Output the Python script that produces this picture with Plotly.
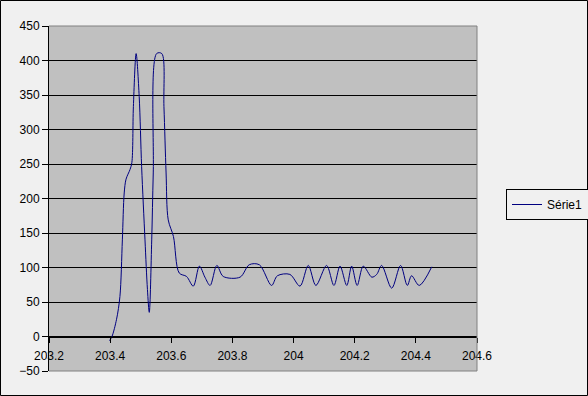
import plotly.graph_objects as go

# Data
x_vals = [203.398, 203.406, 203.421, 203.432, 203.440, 203.446, 203.452, 203.465, 203.471,
          203.476, 203.485, 203.495, 203.503, 203.514, 203.522, 203.528, 203.536, 203.541,
          203.552, 203.569, 203.576, 203.583, 203.590, 203.607, 203.626, 203.650, 203.672,
          203.692, 203.710, 203.727, 203.749, 203.770, 203.825, 203.855, 203.888, 203.928,
          203.947, 203.988, 204.021, 204.048, 204.073, 204.108, 204.132, 204.152, 204.174,
          204.190, 204.208, 204.228, 204.256, 204.272, 204.288, 204.321, 204.350, 204.372,
          204.386, 204.411, 204.452]
y_vals = [-6, 0, 25, 58, 140, 208, 228, 242, 252,
          333, 410, 348, 246, 140, 68, 35, 140, 237,
          410, 410, 333, 237, 169, 145, 92, 87, 73,
          102, 86, 74, 103, 87, 86, 104, 104, 74,
          88, 90, 73, 103, 74, 103, 74, 102, 74,
          102, 74, 102, 86, 90, 103, 70, 103, 74,
          88, 74, 101]
series_name = "Série1"
x_ticks = [203.2, 203.4, 203.6, 203.8, 204.0, 204.2, 204.4, 204.6]
x_tick_text = ["203.2", "203.4", "203.6", "203.8", "204", "204.2", "204.4", "204.6"]
y_ticks = [-50, 0, 50, 100, 150, 200, 250, 300, 350, 400, 450]

W, H = 588, 396
L, R, T, B = 49, 477, 26, 371
pw, ph = R - L, B - T

def px(xp):
    return (xp - L) / pw

def py(yp):
    return (B - yp) / ph

fig = go.Figure()
fig.add_trace(go.Scatter(
    x=x_vals, y=y_vals, mode="lines", name=series_name,
    line=dict(color="#000080", width=1, shape="spline", smoothing=0.9),
    showlegend=True,
))

font = dict(family="Arial, Liberation Sans, sans-serif", size=12, color="black")

fig.update_layout(
    width=W, height=H,
    margin=dict(l=L, r=W - R, t=T, b=H - B, pad=0, autoexpand=False),
    paper_bgcolor="#f0f0f0",
    plot_bgcolor="#c0c0c0",
    font=font,
    showlegend=True,
    legend=dict(
        x=px(506), y=py(189), xanchor="left", yanchor="top",
        bgcolor="#f0f0f0", bordercolor="black", borderwidth=1,
        font=font, itemwidth=30, tracegroupgap=0,
    ),
    xaxis=dict(
        range=[203.2, 204.6], tickvals=x_ticks, ticktext=x_tick_text,
        showgrid=False, zeroline=False,
        showline=True, linecolor="black", linewidth=1,
        ticks="outside", ticklen=5, tickcolor="black", tickwidth=1,
        anchor="free", position=0.1, ticklabelstandoff=3,
        tickfont=font,
    ),
    yaxis=dict(
        range=[-50, 450], tickvals=y_ticks,
        showgrid=True, gridcolor="black", gridwidth=1,
        zeroline=False,
        showline=True, linecolor="black", linewidth=1,
        ticks="outside", ticklen=6, tickcolor="black", tickwidth=1,
        tickfont=font,
    ),
    shapes=[
        # plot area border (top, right, bottom) in grey
        dict(type="path", xref="paper", yref="paper",
             path="M 0,1 L 1,1 L 1,0 L 0,0",
             line=dict(color="#808080", width=1), layer="above"),
        # chart outer border
        dict(type="rect", xref="paper", yref="paper",
             x0=px(0.5), x1=px(587.5), y0=py(395.5), y1=py(0.5),
             line=dict(color="black", width=1), fillcolor="rgba(0,0,0,0)",
             layer="above"),
    ],
)

fig.write_html("out.html")
